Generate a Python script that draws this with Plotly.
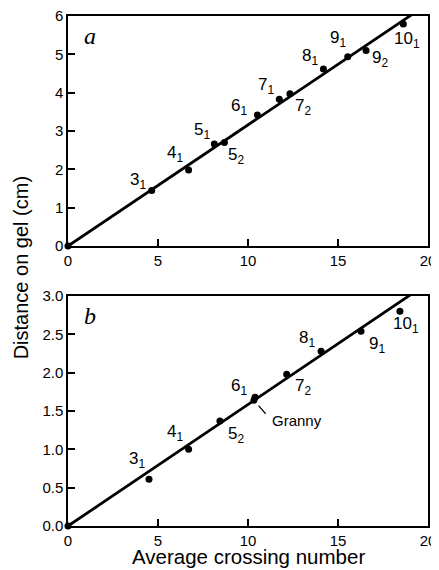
import plotly.graph_objects as go

# ---- data ----
knots_a = ["3<sub>1</sub>", "4<sub>1</sub>", "5<sub>1</sub>", "5<sub>2</sub>", "6<sub>1</sub>",
           "7<sub>1</sub>", "7<sub>2</sub>", "8<sub>1</sub>", "9<sub>1</sub>", "9<sub>2</sub>", "10<sub>1</sub>"]
cross_a = [4.65, 6.70, 8.13, 8.69, 10.52, 11.74, 12.33, 14.19, 15.54, 16.56, 18.63]
dist_a = [1.45, 1.98, 2.66, 2.70, 3.42, 3.83, 3.97, 4.62, 4.94, 5.10, 5.79]

knots_b = ["3<sub>1</sub>", "4<sub>1</sub>", "5<sub>2</sub>", "6<sub>1</sub>", "Granny",
           "7<sub>2</sub>", "8<sub>1</sub>", "9<sub>1</sub>", "10<sub>1</sub>"]
cross_b = [4.50, 6.70, 8.44, 10.39, 10.33, 12.15, 14.06, 16.28, 18.44]
dist_b = [0.61, 1.00, 1.37, 1.68, 1.64, 1.98, 2.28, 2.54, 2.80]

origin_x = [0]
origin_y = [0]

fit_x = [0, 20]
fit_a_y = [0, 6.32]
fit_b_y = [0, 3.17]

x_ticks = [0, 5, 10, 15, 20]
y_ticks_a = [0, 1, 2, 3, 4, 5, 6]
y_ticks_b = [0.0, 0.5, 1.0, 1.5, 2.0, 2.5, 3.0]

x_title = "Average crossing number"
y_title = "Distance on gel (cm)"

# label offsets in pixels (dx right, dy up)
offs_a = [(-14, 9), (-14, 16), (-12, 13), (12, -13), (-18, 8), (-13, 13), (13, -13),
          (-13, 12), (-10, 18), (14, -8), (4, -16)]
offs_b = [(-12, 19), (-14, 16), (16, -14), (-16, 10), None, (16, -13), (-14, 12),
          (16, -14), (6, -14)]

FONT = "Liberation Sans, Arial, sans-serif"
SERIF = "Liberation Serif, Times New Roman, serif"
fig = go.Figure()

for xa, ya, cx, cy, fy in [("x", "y", cross_a, dist_a, fit_a_y),
                           ("x2", "y2", cross_b, dist_b, fit_b_y)]:
    fig.add_trace(go.Scatter(x=fit_x, y=fy, mode="lines", xaxis=xa, yaxis=ya,
                             line=dict(color="black", width=2.8), showlegend=False))
    fig.add_trace(go.Scatter(x=cx + origin_x, y=cy + origin_y, mode="markers", xaxis=xa, yaxis=ya,
                             marker=dict(color="black", size=7), cliponaxis=False,
                             showlegend=False))

anns = []
for k, x, y, o in zip(knots_a, cross_a, dist_a, offs_a):
    anns.append(dict(x=x, y=y, xref="x", yref="y", text=k, showarrow=False,
                     xshift=o[0], yshift=o[1], font=dict(size=17, family=FONT, color="black")))
for k, x, y, o in zip(knots_b, cross_b, dist_b, offs_b):
    if o is None:
        # pointer line
        anns.append(dict(x=x, y=y, xref="x2", yref="y2", text="", showarrow=True,
                         arrowhead=0, arrowwidth=1.2, arrowcolor="black", ax=13, ay=15,
                         standoff=7))
        anns.append(dict(x=x, y=y, xref="x2", yref="y2", text=k, showarrow=False,
                         xanchor="left", xshift=16, yshift=-20,
                         font=dict(size=15, family=FONT, color="black")))
    else:
        anns.append(dict(x=x, y=y, xref="x2", yref="y2", text=k, showarrow=False,
                         xshift=o[0], yshift=o[1], font=dict(size=17, family=FONT, color="black")))

anns.append(dict(x=0.06, y=0.961, xref="paper", yref="paper", text="<i>a</i>", showarrow=False,
                 xanchor="center", yanchor="middle",
                 font=dict(size=24, family=SERIF, color="black")))
anns.append(dict(x=0.06, y=0.412, xref="paper", yref="paper", text="<i>b</i>", showarrow=False,
                 xanchor="center", yanchor="middle",
                 font=dict(size=24, family=SERIF, color="black")))
anns.append(dict(x=-0.128, y=0.507, xref="paper", yref="paper", text=y_title,
                 showarrow=False, textangle=-90, xanchor="center", yanchor="middle",
                 font=dict(size=20, family=FONT, color="black")))
anns.append(dict(x=0.5, y=-0.0345, xref="paper", yref="paper", text=x_title,
                 showarrow=False, xanchor="center", yanchor="top", borderpad=0,
                 font=dict(size=20.5, family=FONT, color="black")))

axis_common = dict(showgrid=False, zeroline=False, showline=True, linecolor="black", linewidth=1.5,
                   mirror=True, ticks="inside", ticklen=7, tickwidth=1.5, tickcolor="black",
                   automargin=False, ticklabeloverflow="allow",
                   tickfont=dict(size=15, family=FONT, color="black"))

# page body adds an 8px offset, so the figure is sized to fit the 439x570 window
fig.update_layout(
    width=431, height=562,
    margin=dict(l=60, r=11, t=8, b=44, autoexpand=False),
    plot_bgcolor="white", paper_bgcolor="white",
    annotations=anns,
    xaxis=dict(axis_common, domain=[0, 1], range=[0, 20], tickvals=x_ticks, anchor="y"),
    yaxis=dict(axis_common, domain=[0.549, 1], range=[0, 6], tickvals=y_ticks_a, anchor="x"),
    xaxis2=dict(axis_common, domain=[0, 1], range=[0, 20], tickvals=x_ticks, anchor="y2"),
    yaxis2=dict(axis_common, domain=[0, 0.451], range=[0, 3], tickvals=y_ticks_b,
                tickformat=".1f", anchor="x2"),
)

fig.write_html("out.html")
